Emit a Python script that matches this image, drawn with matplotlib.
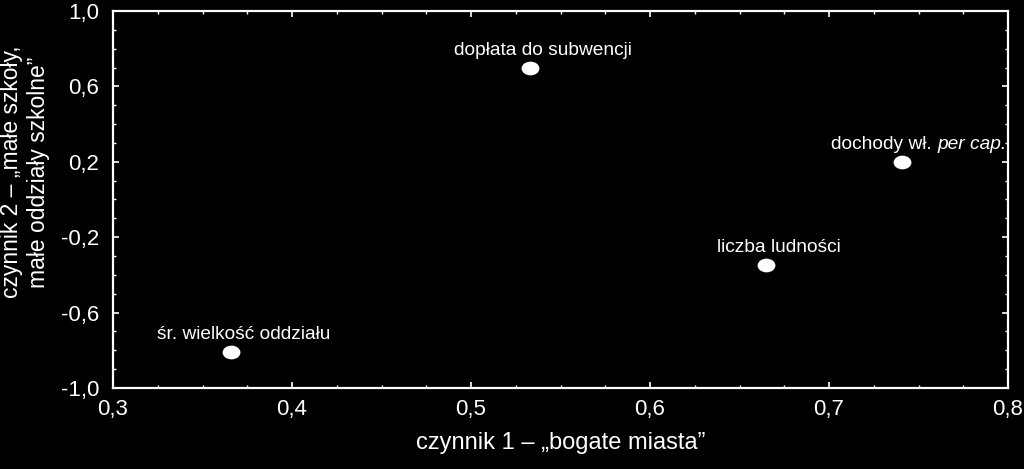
import matplotlib
matplotlib.use("Agg")
import matplotlib.pyplot as plt
from matplotlib.ticker import MultipleLocator, FuncFormatter
from matplotlib.path import Path
from matplotlib.markers import MarkerStyle
import matplotlib.transforms as mtransforms

plt.rcParams['font.family'] = ['Liberation Sans', 'DejaVu Sans']

labels = ["dopłata do subwencji", "dochody wł. per cap.", "liczba ludności", "śr. wielkość oddziału"]
x_vals = [0.533, 0.741, 0.665, 0.366]
y_vals = [0.70, 0.20, -0.35, -0.81]

x_ticks = [0.3, 0.4, 0.5, 0.6, 0.7, 0.8]
y_ticks = [-1.0, -0.6, -0.2, 0.2, 0.6, 1.0]

fig = plt.figure(figsize=(10.24, 4.69), dpi=100, facecolor='black')
ax = fig.add_axes([113/1024, 1-388/469, (1008-113)/1024, (388-11)/469])
ax.set_facecolor('black')

# elliptical marker
circ = Path.unit_circle()
ell = circ.transformed(mtransforms.Affine2D().scale(1.3, 1.0))
ax.scatter(x_vals, y_vals, marker=MarkerStyle(ell), s=165, color='white', zorder=3, linewidths=0)

LFS = 13.8
for lab, xv, yv in zip(labels, x_vals, y_vals):
    if "per cap" in lab:
        plain, ital = "dochody wł. ", "per cap."
        t1 = ax.annotate(plain, (xv, yv), xytext=(-13, 6.5), textcoords='offset points',
                         color='white', fontsize=LFS, ha='center', va='bottom')
        ax.annotate(ital, xy=(1, 0), xycoords=t1, xytext=(0, 0), textcoords='offset points',
                    color='white', fontsize=LFS, ha='left', va='bottom', style='italic')
    else:
        ax.annotate(lab, (xv, yv), xytext=(9, 6.5), textcoords='offset points',
                    color='white', fontsize=LFS, ha='center', va='bottom')

ax.set_xlim(0.3, 0.8)
ax.set_ylim(-1.0, 1.0)
ax.set_xticks(x_ticks)
ax.set_yticks(y_ticks)
ax.xaxis.set_minor_locator(MultipleLocator(0.025))
ax.yaxis.set_minor_locator(MultipleLocator(0.1))

fmt = FuncFormatter(lambda v, p: f"{v:.1f}".replace('.', ',').replace('\u2212', '-'))
ax.xaxis.set_major_formatter(fmt)
ax.yaxis.set_major_formatter(fmt)

for sp in ax.spines.values():
    sp.set_color('white')
    sp.set_linewidth(1.6)

ax.tick_params(which='both', direction='in', colors='white', top=True, right=True, labelsize=16)
ax.tick_params(which='major', length=4, width=1.2)
ax.tick_params(which='minor', length=2, width=1.0)
ax.tick_params(axis='x', which='major', pad=8)
ax.tick_params(axis='y', which='major', pad=10)

fig.text(561/1024, 1 - 443/469, "czynnik 1 – „bogate miasta”", color='white',
         fontsize=17, ha='center', va='center')
fig.text(25/1024, 1 - 172/469, "czynnik 2 – „małe szkoły,\nmałe oddziały szkolne”", color='white',
         fontsize=16.5, ha='center', va='center', rotation=90, linespacing=1.2)

fig.savefig("out.png", dpi=100, facecolor='black')
